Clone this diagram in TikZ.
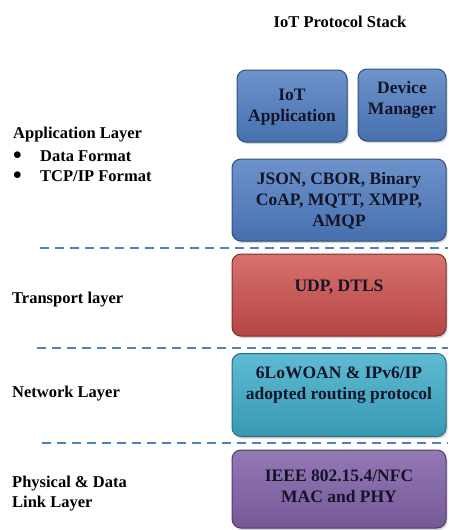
\documentclass[tikz,border=0pt]{standalone}
\usepackage{fontspec}
\setmainfont{Liberation Serif}
\usetikzlibrary{shadows}
\definecolor{bluebase}{HTML}{4670AE}
\definecolor{bluetop}{HTML}{6E93CB}
\definecolor{blueedge}{HTML}{2F4F7E}
\definecolor{redbase}{HTML}{B44644}
\definecolor{redtop}{HTML}{D8716D}
\definecolor{rededge}{HTML}{7E2F2D}
\definecolor{tealbase}{HTML}{3898B2}
\definecolor{tealtop}{HTML}{5EBBD3}
\definecolor{tealedge}{HTML}{286E80}
\definecolor{purpbase}{HTML}{765898}
\definecolor{purptop}{HTML}{9479B5}
\definecolor{purpedge}{HTML}{4F3A69}
\definecolor{dashblue}{HTML}{4F81BD}
\definecolor{boxtext}{HTML}{141428}
\begin{document}
\begin{tikzpicture}[x=1pt,y=-1pt,
  layerbox/.style={rectangle, rounded corners=9pt, line width=1pt,
     drop shadow={shadow xshift=1.5pt, shadow yshift=-2pt, opacity=0.35}},
  bluebox/.style={layerbox, draw=blueedge, top color=bluetop, bottom color=bluebase},
  redbox/.style={layerbox, draw=rededge, top color=redtop, bottom color=redbase},
  tealbox/.style={layerbox, draw=tealedge, top color=tealtop, bottom color=tealbase},
  purpbox/.style={layerbox, draw=purpedge, top color=purptop, bottom color=purpbase},
  boxlabel/.style={align=center, inner sep=0pt, font=\fontsize{17.5}{21}\selectfont\bfseries, text=boxtext},
  label/.style={anchor=west, align=left, font=\fontsize{16.5}{20}\selectfont\bfseries, text=black, inner sep=0pt},
  sep/.style={draw=dashblue, line width=2pt, dash pattern=on 9pt off 6pt}
]
\useasboundingbox (0,0) rectangle (448,530);

\node[font=\fontsize{16.5}{19}\selectfont\bfseries] (title) at (340,22) {IoT Protocol Stack};

\node[bluebox, minimum width=110pt, minimum height=72pt] (iotapp) at (292,106) {};
\node[bluebox, minimum width=88pt, minimum height=72pt] (devmgr) at (402,105) {};
\node[bluebox, minimum width=214pt, minimum height=82pt] (json) at (339,200) {};
\node[redbox, minimum width=214pt, minimum height=82pt] (udp) at (339,295) {};
\node[tealbox, minimum width=214pt, minimum height=83pt] (net) at (339,395) {};
\node[purpbox, minimum width=214pt, minimum height=78pt] (phy) at (339,489) {};

\node[boxlabel] (iotappt) at (292,107) {IoT\\Application};
\node[boxlabel] (devmgrt) at (402,100) {Device\\Manager};
\node[boxlabel] (jsont) at (339,201) {JSON, CBOR, Binary\\CoAP, MQTT, XMPP,\\AMQP};
\node[boxlabel] (udpt) at (339,287) {UDP, DTLS};
\node[boxlabel] (nett) at (339,385) {6LoWOAN \& IPv6/IP\\adopted routing protocol};
\node[boxlabel] (phyt) at (339,486) {IEEE 802.15.4/NFC\\MAC and PHY};

\coordinate (s1a) at (40,248); \coordinate (s1b) at (448,248);
\coordinate (s2a) at (37,348); \coordinate (s2b) at (448,348);
\coordinate (s3a) at (42,443); \coordinate (s3b) at (448,443);
\draw[sep] (s1a) -- (s1b);
\draw[sep] (s2a) -- (s2b);
\draw[sep] (s3a) -- (s3b);

\node[label] (applab) at (13,135) {Application Layer};
\node[label] (b1) at (13,156) {$\bullet$};
\node[label] (df) at (40,156) {Data Format};
\node[label] (b2) at (13,176) {$\bullet$};
\node[label] (tcp) at (40,176) {TCP/IP Format};
\node[label] (trans) at (12,300) {Transport layer};
\node[label] (netlab) at (12,394) {Network Layer};
\node[label] (phylab) at (12,494) {Physical \& Data\\Link Layer};
\end{tikzpicture}
\end{document}
